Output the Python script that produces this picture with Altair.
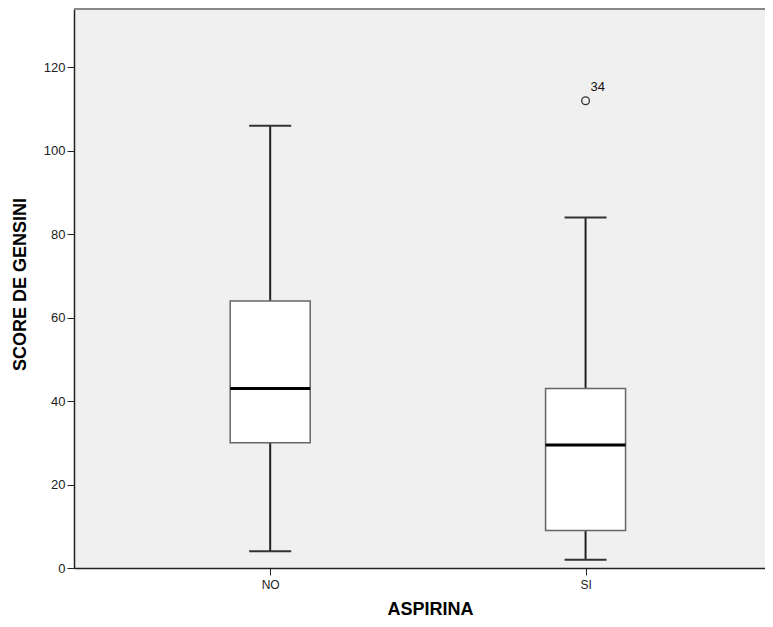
import altair as alt
import pandas as pd

categories = ["NO", "SI"]
positions = [1, 2]
lower_whisker = [4, 2]
q1 = [30, 9]
median = [43, 29.5]
q3 = [64, 43]
upper_whisker = [106, 84]
outlier_cat = ["SI"]
outlier_val = [112]
outlier_label = ["34"]

box = pd.DataFrame({
    "cat": categories, "pos": positions, "lo": lower_whisker, "q1": q1,
    "med": median, "q3": q3, "hi": upper_whisker,
})
out = pd.DataFrame({
    "cat": outlier_cat,
    "pos": [positions[categories.index(c)] for c in outlier_cat],
    "val": outlier_val, "label": outlier_label,
})

W, H = 691, 559
x0 = 1 - 194 / 320
xscale = alt.Scale(domain=[x0, x0 + W / 320], nice=False, zero=False)
yscale = alt.Scale(domain=[0, 134], nice=False)

xaxis = alt.Axis(
    title="ASPIRINA", values=positions,
    labelExpr="datum.value == 1 ? 'NO' : 'SI'",
    grid=False, domainColor="#222", domainWidth=1.5, tickColor="#222", tickSize=7,
    labelFont="Liberation Sans", labelFontSize=12, labelColor="#222", labelPadding=4,
    titleFont="Liberation Sans", titleFontSize=18, titleFontWeight="bold", titleColor="#000",
    titleX=356, titleY=46, titleAnchor="middle", titleBaseline="alphabetic",
)
yaxis = alt.Axis(
    title="SCORE DE GENSINI", values=[0, 20, 40, 60, 80, 100, 120],
    grid=False, domainColor="#222", domainWidth=1.5, tickColor="#222", tickSize=7,
    labelFont="Liberation Sans", labelFontSize=13, labelColor="#222", labelPadding=2,
    titleFont="Liberation Sans", titleFontSize=18, titleFontWeight="bold", titleColor="#000",
    titleX=-49, titleY=275, titleAngle=-90, titleAnchor="middle", titleBaseline="alphabetic",
)

base = alt.Chart(box)

whisker = base.mark_rule(color="#222", strokeWidth=2).encode(
    x=alt.X("pos:Q", scale=xscale, axis=xaxis),
    y=alt.Y("lo:Q", scale=yscale, axis=yaxis),
    y2="hi:Q",
)
caps_hi = base.mark_tick(color="#333", size=42, thickness=2, orient="horizontal", opacity=1).encode(
    x="pos:Q", y="hi:Q"
)
caps_lo = base.mark_tick(color="#333", size=42, thickness=2, orient="horizontal", opacity=1).encode(
    x="pos:Q", y="lo:Q"
)
boxes = base.mark_bar(fill="white", stroke="#666", strokeWidth=1.5, size=80).encode(
    x="pos:Q", y="q1:Q", y2="q3:Q"
)
med = base.mark_tick(color="#000", size=80, thickness=3, orient="horizontal", opacity=1).encode(
    x="pos:Q", y="med:Q"
)
pts = alt.Chart(out).mark_point(shape="circle", filled=False, color="#333", size=60, strokeWidth=1.3, opacity=1).encode(
    x="pos:Q", y="val:Q"
)
lbl = alt.Chart(out).mark_text(
    align="left", baseline="bottom", dx=5, dy=-7, font="Liberation Sans", fontSize=13, color="#111"
).encode(x="pos:Q", y="val:Q", text="label:N")

top_line = alt.Chart(box).mark_rule(color="#888", strokeWidth=2).encode(
    x=alt.value(0), x2=alt.value(W + 10), y=alt.value(0)
)

chart = alt.layer(whisker, boxes, med, caps_hi, caps_lo, pts, lbl, top_line).properties(
    width=W, height=H,
    autosize=alt.AutoSizeParams(type="none"),
    padding={"left": 66, "top": 1, "right": 0, "bottom": 51},
    background="white",
).configure_view(fill="#f0f0f0", stroke="transparent", strokeWidth=0)

chart.save("out.html", embed_options={"renderer": "svg", "actions": False})
